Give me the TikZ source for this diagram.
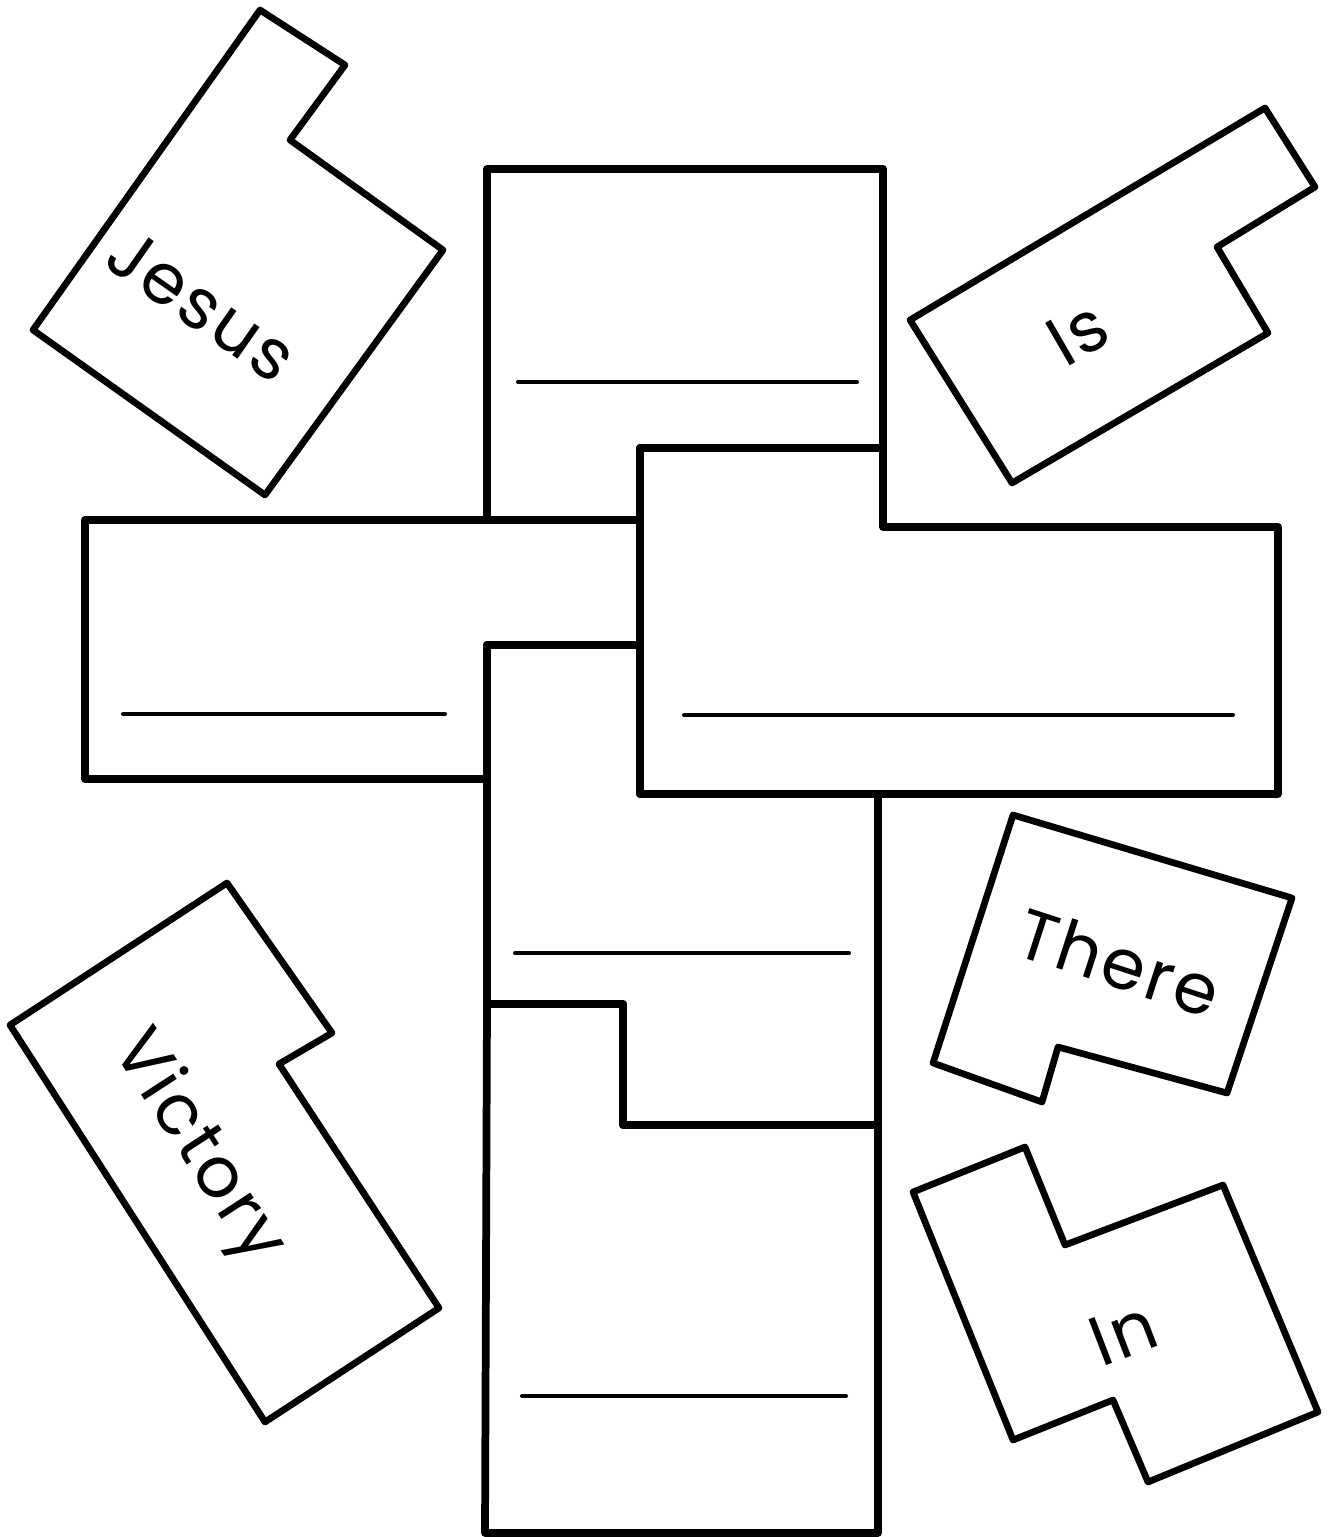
\documentclass[tikz,border=0pt]{standalone}
\usepackage{fontspec}
\usepackage{tikz}
\newfontfamily\wordfont[LetterSpace=4]{Poppins}

\begin{document}
\begin{tikzpicture}[x=0.01cm, y=-0.01cm,
  piece/.style={black, line width=2.2pt, line join=round},
  tile/.style={black, line width=1.9pt, line join=round},
  blank/.style={black, line width=1.15pt, line cap=round},
  word/.style={font=\wordfont\fontsize{20}{24}\selectfont, inner sep=0pt}]
\useasboundingbox (0,0) rectangle (1330,1537);

% Draw the cross pieces
\draw[piece] (487,169) -- (883,169) -- (883,448) -- (640,448) -- (640,520) -- (487,520) -- cycle;
\draw[piece] (85,520) -- (640,520) -- (640,645) -- (487,645) -- (487,779) -- (85,779) -- cycle;
\draw[piece] (640,448) -- (883,448) -- (883,527) -- (1278,527) -- (1278,794) -- (640,794) -- cycle;
\draw[piece] (487,645) -- (640,645) -- (640,794) -- (878,794) -- (878,1125) -- (623,1125) -- (623,1004) -- (487,1004) -- cycle;
\draw[piece] (487,1004) -- (623,1004) -- (623,1125) -- (878,1125) -- (878,1533) -- (485,1533) -- cycle;

% Write-in lines
\foreach \xa/\xb/\y in {518/857/382, 123/445/714, 684/1233/715, 515/849/953, 522/846/1396} {
    \draw[blank] (\xa,\y) -- (\xb,\y);
}

% Draw the loose word pieces
\draw[tile] (260,10) -- (345,65) -- (290,140) -- (443,250) -- (265,495) -- (33,330) -- cycle;
\draw[tile] (1265,108) -- (1315,187) -- (1217,247) -- (1268,333) -- (1012,483) -- (910,320) -- cycle;
\draw[tile] (227,883) -- (332,1033) -- (279,1064) -- (439,1308) -- (265,1422) -- (10,1025) -- cycle;
\draw[tile] (1013,815) -- (1292,898) -- (1227,1093) -- (1058,1047) -- (1042,1102) -- (933,1063) -- cycle;
\draw[tile] (913,1192) -- (1025,1147) -- (1065,1245) -- (1223,1185) -- (1318,1412) -- (1148,1482) -- (1113,1400) -- (1013,1440) -- cycle;

% Words
\node[word, rotate=-35] (jesus) at (202,305) {Jesus};
\node[word, rotate=30] (is) at (1078,333) {Is};
\node[word, rotate=-57] (victory) at (197,1148) {Victory};
\node[word, rotate=-18] (there) at (1119,962) {There};
\node[word, rotate=21] (in) at (1123,1333) {In};

\end{tikzpicture}
\end{document}
